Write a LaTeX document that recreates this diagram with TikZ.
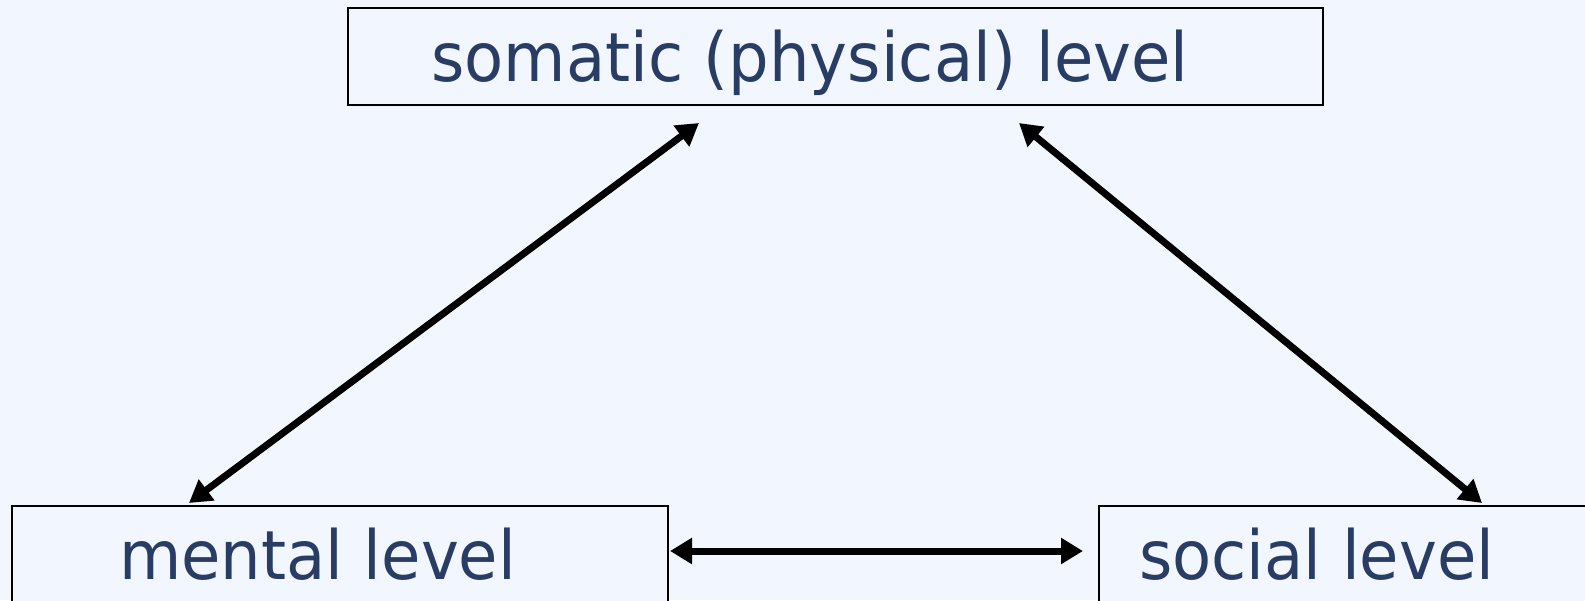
\documentclass[tikz,border=0pt]{standalone}
\usepackage{fontspec}
\setmainfont{DejaVu Sans}
\usetikzlibrary{arrows.meta}
\definecolor{pagebg}{RGB}{242,246,254}
\definecolor{labelblue}{RGB}{40,60,100}
\newcommand{\tallertext}[1]{\scalebox{1}[1.06]{#1}}
\tikzset{
  levelbox/.style={draw=black, line width=2pt, fill=pagebg, inner sep=0pt, anchor=north west},
  levellabel/.style={anchor=base west, inner sep=0pt, text=labelblue,
    font=\fontsize{64}{76}\selectfont},
  link/.style={line width=7pt, black,
    {Triangle[length=22pt,width=25pt]}-{Triangle[length=22pt,width=25pt]}}
}
\begin{document}
\begin{tikzpicture}[x=1pt, y=-1pt]
  % page area and background
  \useasboundingbox (0,0) rectangle (1585,600);
  \clip (0,0) rectangle (1585,600);
  \fill[pagebg] (0,0) rectangle (1585,600);

  % the three levels
  \node[levelbox, minimum width=975pt, minimum height=97pt] (somatic) at (347,7) {};
  \node[levelbox, minimum width=656pt, minimum height=160pt] (mental) at (11,505) {};
  \node[levelbox, minimum width=560pt, minimum height=160pt] (social) at (1098,505) {};

  \node[levellabel] (somaticlabel) at (431,81) {\tallertext{somatic (physical) level}};
  \node[levellabel] (mentallabel) at (119,579) {\tallertext{mental level}};
  \node[levellabel] (sociallabel) at (1139,579) {\tallertext{social level}};

  % interactions between the levels
  \draw[link] ([xshift=178pt, yshift=2pt]mental.north west)
           -- ([xshift=352pt, yshift=-17pt]somatic.south west);
  \draw[link] ([xshift=672pt, yshift=-17pt]somatic.south west)
           -- ([xshift=384pt, yshift=2pt]social.north west);
  \draw[link] ([xshift=1pt, yshift=-46pt]mental.north east)
           -- ([xshift=-15pt, yshift=-46pt]social.north west);
\end{tikzpicture}
\end{document}
